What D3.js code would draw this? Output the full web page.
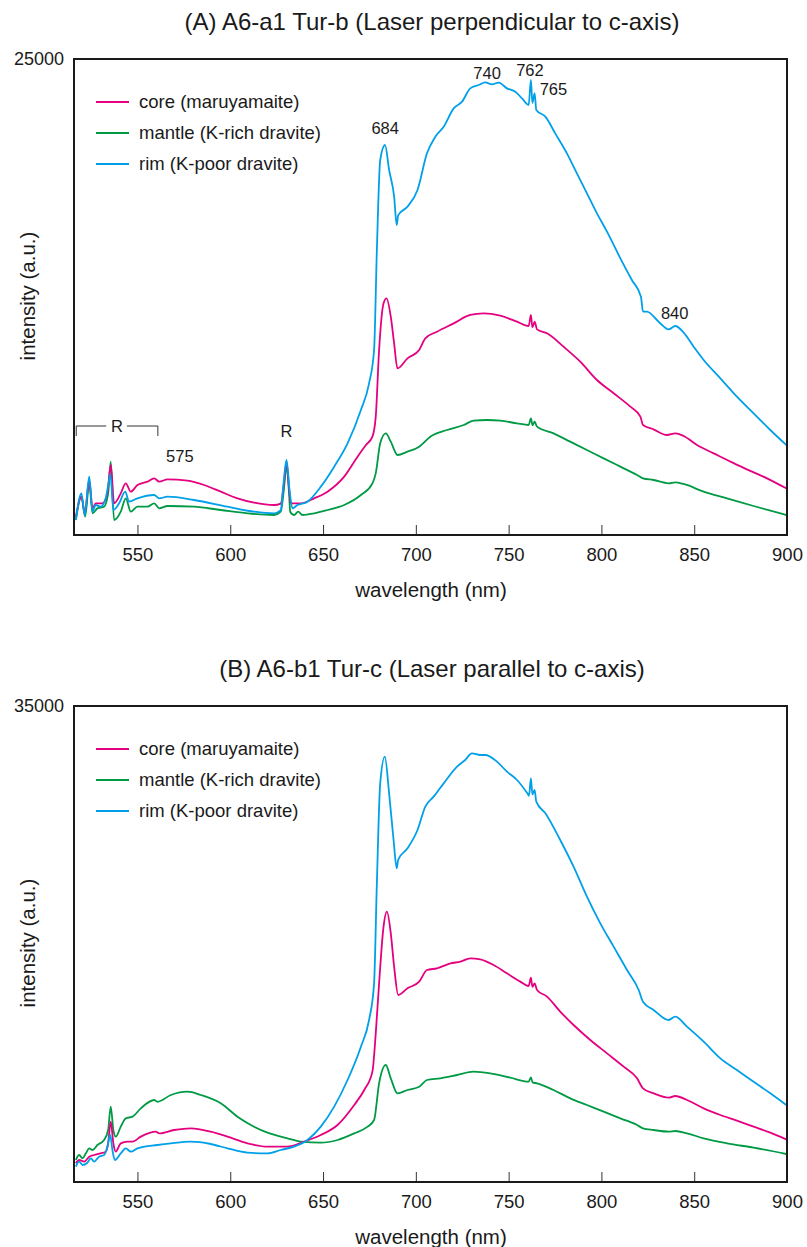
<!DOCTYPE html>
<html>
<head>
<meta charset="utf-8">
<script src="https://cdn.jsdelivr.net/npm/d3@7"></script>
<style>
  html, body { margin: 0; padding: 0; background: #fff; }
  svg { display: block; font-family: "Liberation Sans", Arial, Helvetica, sans-serif; }
</style>
</head>
<body>
<svg id="chart" width="807" height="1247"></svg>
<script>
// ---- Panel A: A6-a1 Tur-b, laser perpendicular to c-axis ----
const wlA_core = [516.8,519.8,521.6,524,525.8,527.5,531.1,533.8,535.6,537.4,541,543.7,546.4,550,555.4,559,561.7,566.2,576.9,585.9,594.9,603.9,612.9,623.6,627.2,628.8,630.3,631.8,632.6,638,645.2,652.4,661.4,668.6,673.1,676.6,678.4,680.2,682.6,684.2,686.5,688.3,690.1,695.5,701.8,705.1,711.4,720.4,729.3,736.5,745.5,754.5,760.8,762,762.8,764,765.3,770.7,779.6,788.6,797.6,806.6,815.6,821,822.4,828.1,835.3,839.8,844.3,851.5,860.5,869.5,878.4,889.2,899.6];
const intA_core = [963,2013,1138,2889,1400,1663,1663,2188,3700,1663,2188,2714,2276,2626,2801,2976,2801,2924,2854,2626,2276,1926,1698,1575,1650,2600,3850,2300,1663,1663,1926,2276,3064,4114,4727,5165,6215,9716,12167,12430,11467,10066,8754,9279,9716,10329,10679,11117,11555,11642,11520,11204,10977,11555,10900,11200,10802,10592,9891,9104,8141,7441,6740,6215,5777,5550,5252,5340,5200,4727,4289,3852,3449,2976,2451];

const wlA_mantle = [516.8,519.8,521.8,524,525.8,528.4,532,534.2,535.6,537.4,541,543.7,546.4,550,555.4,559,561.7,566.2,580.5,594.9,609.3,623.6,627.2,628.8,630.3,631.8,632.3,634.4,636.6,638.9,645.2,652.4,661.4,670.4,676.6,678.4,680.8,683.8,686.5,690.1,695.5,701.8,707.8,716.8,725.8,731.1,738.3,745.5,754.5,760.8,762,762.9,764,765.3,774.2,783.2,792.2,801.2,810.2,819.2,822.4,828.1,836.2,839.8,844.3,855.1,867.7,882,899.6];
const intA_mantle = [788,2013,963,2714,1138,1400,1488,2188,3852,788,1225,1926,1225,1488,1488,1663,1400,1523,1488,1313,1138,1050,1225,2300,3600,2000,1225,1050,1225,1050,1138,1313,1575,2100,2714,3239,4814,5340,4902,4202,4377,4639,5165,5515,5777,6005,6040,6005,5865,5777,6127,5760,5950,5690,5340,4902,4464,4027,3589,3151,2976,2889,2714,2766,2679,2276,1926,1523,1050];

const wlA_rim = [516.8,519.8,521.6,524,525.8,527.5,530.2,532.9,534.7,535.4,537,540.1,543.4,545.5,550,559,561.7,566.2,580.5,598.5,612.9,623.6,627.2,628.7,630.3,631.9,633.5,636.2,641.6,648.8,656,663.2,670.4,674.8,677.5,679,680.8,683.4,685.6,688.3,689.7,690.5,695.5,700.9,706,710.5,715,720.4,724.9,729.3,733.8,737.4,741,744.6,749.1,753.6,757.2,760.8,762,762.8,764,764.9,769.8,775.1,781.4,786.8,792.2,797.6,803,810.2,816.4,821.3,822.4,824.5,830.8,836.2,839.8,844.3,849.7,855.1,864.1,873,882,891,899.6];
const intA_rim = [788,2188,1050,3064,1225,1575,1488,1926,2889,3200,1313,1663,2276,1751,1926,2100,1926,2013,1838,1488,1225,1138,1300,2700,3939,2400,1400,1575,1751,2539,3589,4814,6565,7966,9716,14968,19695,20483,19170,17770,16282,16800,17245,18120,20046,20921,21446,22409,22759,23459,23634,23774,23669,23757,23459,23284,22934,22584,23897,22700,23197,22322,21971,21096,20046,18995,17945,16894,15931,14531,13393,12517,11730,11730,11204,10802,10977,10627,9891,9191,8228,7265,6390,5515,4727];

// ---- Panel B: A6-b1 Tur-c, laser parallel to c-axis ----
const wlB_core = [516.8,518.6,521.3,524,526.6,530.2,532.9,534.2,535.6,537,538.3,541,544.6,547.3,551.8,559.9,561.7,569.8,578.7,589.5,598.5,609.3,620.1,630.8,639.8,648.8,657.8,666.8,672.2,676.6,678.4,680.2,682.6,684.4,686.5,688.3,690.5,695.5,701.8,706,711.4,718.6,724,729.3,734.7,741.9,749.1,756.3,760.8,762,762.8,764,765.3,770.7,777.8,785,794,803,812,819.2,822.4,828.1,836.2,839.8,846.1,855.1,864.1,873,882,891,899.6];
const intB_core = [1373,1618,1500,1863,1985,2108,2230,2850,4436,2850,2230,2843,2966,2966,3333,3701,3578,3824,3946,3701,3333,2843,2598,2598,2966,3456,4191,5662,6765,8113,10932,14608,18775,19878,18284,15833,13750,14240,14731,15588,15711,16079,16201,16446,16373,15956,15343,14731,14412,15025,14350,14608,14118,13628,12525,11544,10441,9461,8480,7623,6888,6520,6201,6324,6030,5417,4927,4510,4069,3627,3137];

const wlB_mantle = [516.8,518.6,520.4,522.2,524,525.8,528.4,532,534.2,535.6,537,538.3,541,543.7,547.3,551.8,559,560.8,568,577,584.1,594.9,603.9,611.1,620.1,630.8,638,648.8,657.8,666.8,674,677.5,680.2,683.8,686.5,690.1,695.5,701.8,706,713.2,722.2,731.1,740.1,750.9,760.8,762,762.9,765.3,774.2,783.2,792.2,801.2,810.2,819.2,822.4,828.1,836.2,839.8,846.1,855.1,867.7,882,899.6];
const intB_mantle = [1618,1985,1740,2108,2476,2353,2721,3088,3824,5539,3824,3333,4069,4681,4804,5417,6029,5900,6397,6642,6397,5784,4804,4191,3627,3211,2966,2892,3088,3578,4069,4559,7255,8603,7623,6520,6765,7010,7500,7623,7868,8113,7990,7672,7378,7696,7330,7255,6765,6152,5662,5172,4681,4191,3946,3824,3701,3750,3578,3211,2843,2525,2059];

const wlB_rim = [516.8,518.6,520.4,522.7,524.9,526.6,529.3,532,533.8,535.3,536.5,537.8,541,543.7,546.4,550,560.8,568,578.7,589.5,598.5,609.3,620.1,627.2,634.4,641.6,648.8,656,663.2,670.4,674.8,677.5,679,680.8,683.3,685.6,688,689.7,690.5,695.5,700.9,705.1,709.6,715,722.2,726.6,730.2,734.7,737.4,743.7,749.1,754.5,760.1,761,762,762.8,764,764.9,769.8,777.8,785,792.2,799.4,806.6,813.8,820.1,822.4,828.1,836.2,839.8,846.1,855.1,864.1,873,882,891,899.6];
const intB_rim = [1127,1495,1250,1373,1740,1495,1863,1985,2598,3456,2353,1618,2108,2476,2230,2476,2721,2843,2966,2794,2476,2157,2108,2353,2598,3088,4069,5539,7500,9951,11912,14608,21961,29314,31275,28579,25147,23064,23700,24535,25883,27598,28333,29314,30539,31030,31520,31397,31397,30907,30172,29559,28579,28400,29682,28500,28824,27966,27108,25147,23186,20981,19020,17304,15588,14118,13260,12647,11912,12157,11422,10319,9093,8235,7378,6520,5662];

const seriesLabels = ["core (maruyamaite)", "mantle (K-rich dravite)", "rim (K-poor dravite)"];
const seriesColors = ["#e4007f", "#009a44", "#00a0e9"];
const xTicks = [550, 600, 650, 700, 750, 800, 850, 900];
const yMaxA = 25000;
const yMaxB = 35000;

// band positions labelled on panel A (nm), with the curve they sit on
const peakLabels = [
  { wl: 684, text: "684", series: "rim", dx: -1, dy: -17 },
  { wl: 740, text: "740", series: "rim", dx: -3, dy: -9 },
  { wl: 762, text: "762", series: "rim", dx: -1, dy: -10 },
  { wl: 765, text: "765", series: "rim", dx: 17, dy: 9 },
  { wl: 840, text: "840", series: "rim", dx: -1, dy: -13 },
  { wl: 575, text: "575", series: "core", dx: -4, dy: -24 }
];

const svg = d3.select("#chart");
const margin = { left: 74, right: 787 };
const x = d3.scaleLinear().domain([515.8, 900]).range([margin.left, margin.right]);
const ink = "#1a1a1a";

function drawPanel(cfg) {
  const y = d3.scaleLinear().domain([0, cfg.yMax]).range([cfg.bottom, cfg.top]);
  const g = svg.append("g");

  // title
  g.append("text")
    .attr("x", 432)
    .attr("y", cfg.top - 37)
    .attr("dy", "0.35em")
    .attr("text-anchor", "middle")
    .attr("font-size", 24)
    .attr("fill", ink)
    .text(cfg.title);

  // spectra
  const line = d3.line().x(d => x(d[0])).y(d => y(d[1])).curve(d3.curveMonotoneX);
  const clipId = "clip-" + cfg.key;
  g.append("clipPath").attr("id", clipId)
    .append("rect")
    .attr("x", margin.left).attr("y", cfg.top)
    .attr("width", margin.right - margin.left).attr("height", cfg.bottom - cfg.top);
  [1, 0, 2].forEach(i => {
    const s = cfg.series[i];
    g.append("path")
      .datum(d3.zip(s.wl, s.val))
      .attr("clip-path", `url(#${clipId})`)
      .attr("fill", "none")
      .attr("stroke", seriesColors[i])
      .attr("stroke-width", 1.8)
      .attr("stroke-linejoin", "round")
      .attr("d", line);
  });

  // bottom axis with inward ticks
  const xAxis = d3.axisBottom(x).tickValues(xTicks).tickSize(-10).tickPadding(13).tickFormat(d3.format("d"));
  const ax = g.append("g").attr("transform", `translate(0,${cfg.bottom})`).call(xAxis);
  ax.select(".domain").remove();
  ax.selectAll(".tick line").attr("stroke", "#333").attr("stroke-width", 1);
  ax.selectAll(".tick text").attr("font-size", 18.5).attr("fill", ink)
    .attr("font-family", "'Liberation Sans', Arial, sans-serif");

  // left axis: only the top value is labelled
  const yAxis = d3.axisLeft(y).tickValues([cfg.yMax]).tickSize(0).tickPadding(10).tickFormat(d3.format("d"));
  const ay = g.append("g").attr("transform", `translate(${margin.left},0)`).call(yAxis);
  ay.select(".domain").remove();
  ay.selectAll(".tick text").attr("font-size", 18).attr("fill", ink)
    .attr("font-family", "'Liberation Sans', Arial, sans-serif");

  // frame
  g.append("rect")
    .attr("x", margin.left).attr("y", cfg.top)
    .attr("width", margin.right - margin.left).attr("height", cfg.bottom - cfg.top)
    .attr("fill", "none").attr("stroke", ink).attr("stroke-width", 2);

  // axis titles
  g.append("text")
    .attr("x", 431)
    .attr("y", cfg.bottom + 55)
    .attr("dy", "0.35em")
    .attr("text-anchor", "middle")
    .attr("font-size", 20.5)
    .attr("fill", ink)
    .text("wavelength (nm)");
  g.append("text")
    .attr("transform", `translate(28,${(cfg.top + cfg.bottom) / 2 - 1}) rotate(-90)`)
    .attr("dy", "0.35em")
    .attr("text-anchor", "middle")
    .attr("font-size", 20.5)
    .attr("fill", ink)
    .text("intensity (a.u.)");

  // legend
  const lg = g.append("g").attr("transform", `translate(96,${cfg.top + 43})`);
  seriesLabels.forEach((lab, i) => {
    const row = lg.append("g").attr("transform", `translate(0,${i * 31})`);
    row.append("line").attr("x1", 0).attr("x2", 33).attr("y1", 0).attr("y2", 0)
      .attr("stroke", seriesColors[i]).attr("stroke-width", 1.8);
    row.append("text").attr("x", 43).attr("y", 0).attr("dy", "0.35em")
      .attr("font-size", 18.5).attr("fill", ink).text(lab);
  });
  return { g, y };
}

const panelA = drawPanel({
  key: "a", title: "(A) A6-a1 Tur-b (Laser perpendicular to c-axis)",
  top: 59, bottom: 535, yMax: yMaxA,
  series: [
    { wl: wlA_core, val: intA_core },
    { wl: wlA_mantle, val: intA_mantle },
    { wl: wlA_rim, val: intA_rim }
  ]
});

drawPanel({
  key: "b", title: "(B) A6-b1 Tur-c (Laser parallel to c-axis)",
  top: 706, bottom: 1182, yMax: yMaxB,
  series: [
    { wl: wlB_core, val: intB_core },
    { wl: wlB_mantle, val: intB_mantle },
    { wl: wlB_rim, val: intB_rim }
  ]
});

// band labels placed just above the curve they belong to
const lookup = { rim: [wlA_rim, intA_rim], core: [wlA_core, intA_core] };
peakLabels.forEach(p => {
  const [wl, val] = lookup[p.series];
  const v = d3.max(d3.zip(wl, val).filter(d => Math.abs(d[0] - p.wl) <= 4), d => d[1]);
  panelA.g.append("text")
    .attr("x", x(p.wl) + p.dx)
    .attr("y", panelA.y(v) + p.dy)
    .attr("dy", "0.35em")
    .attr("text-anchor", "middle")
    .attr("font-size", 16.5)
    .attr("fill", ink)
    .text(p.text);
});

// Raman bands marked "R"
const rBracket = [517, 561];
const yR = 426;
const gR = panelA.g.append("g").attr("stroke", "#333").attr("stroke-width", 1).attr("fill", "none");
gR.append("path").attr("d", `M${x(rBracket[0])},${yR + 10}V${yR}H${x(rBracket[0]) + 30}`);
gR.append("path").attr("d", `M${x(rBracket[1]) - 31},${yR}H${x(rBracket[1])}V${yR + 10}`);
panelA.g.append("text").attr("x", (x(rBracket[0]) + x(rBracket[1])) / 2).attr("y", yR).attr("dy", "0.35em")
  .attr("text-anchor", "middle").attr("font-size", 16.5).attr("fill", ink).text("R");
panelA.g.append("text").attr("x", x(630.3)).attr("y", 431).attr("dy", "0.35em")
  .attr("text-anchor", "middle").attr("font-size", 16.5).attr("fill", ink).text("R");
</script>
</body>
</html>
